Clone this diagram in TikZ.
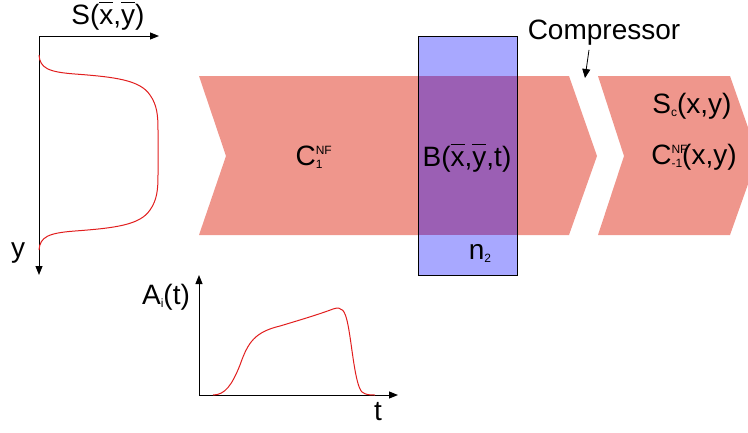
\documentclass[tikz,border=0pt]{standalone}
\usepackage{fontspec}
\setmainfont{Liberation Sans}
\usetikzlibrary{arrows.meta, calc}

\definecolor{pinkfill}{RGB}{239,150,140}
\definecolor{bluefill}{RGB}{168,168,255}
\definecolor{purplefill}{RGB}{155,95,180}
\definecolor{curvered}{RGB}{225,30,30}

\newsavebox{\ovlbox}
\newcommand{\lblsmall}{\fontsize{12}{12}\selectfont}
\newcommand{\ovl}[1]{\sbox{\ovlbox}{#1}\makebox[0pt][l]{\rule[21.5pt]{\wd\ovlbox}{1.6pt}}\usebox{\ovlbox}}
\newcommand{\supsub}[2]{\makebox[0pt][l]{\raisebox{11pt}{\lblsmall #2}}\raisebox{-3pt}{\lblsmall #1}}
\newcommand{\lowidx}[1]{\raisebox{-3pt}{\lblsmall #1}}

\tikzset{%
  lbl/.style={font=\fontsize{28}{30}\selectfont, inner sep=0pt},
  axis/.style={line width=1pt, -{Triangle[length=9pt,width=7pt]}},
  pointer/.style={line width=0.8pt, -{Triangle[length=9pt,width=8pt]}},
  profile/.style={curvered, line width=1pt},
}

\begin{document}
\begin{tikzpicture}[x=1pt, y=-1pt]
\useasboundingbox (0,0) rectangle (748,432);
\clip (0,0) rectangle (748,432);

% chevrons (flow before and after the compressor)
\fill[pinkfill] (199,76) -- (569,76) -- (597,156) -- (569,235) -- (199,235) -- (226,156) -- cycle;
\fill[pinkfill] (598,76) -- (730,76) -- (758,156) -- (730,235) -- (598,235) -- (624,156) -- cycle;

% detector box with overlap region
\fill[bluefill] (418,36) rectangle (517,275);
\fill[purplefill] (418,76) rectangle (517,235);
\draw[line width=0.6pt] (418,36) rectangle (517,275);

% spatial profile axes
\coordinate (S0) at (39,36);
\draw[axis] (S0) -- (159,36);
\draw[axis] (S0) -- (39,275);
\draw[profile] (39,55) .. controls (40,68) and (48,72) .. (75,74)
  .. controls (115,77) and (140,80) .. (150,95)
  .. controls (157,105) and (158,115) .. (158,130) -- (158,175)
  .. controls (158,190) and (157,200) .. (150,210)
  .. controls (140,225) and (115,228) .. (75,231)
  .. controls (48,233) and (40,237) .. (39,250);

% temporal profile axes
\coordinate (A0) at (199,395);
\draw[axis] (A0) -- (199,275);
\draw[axis] (A0) -- (398,395);
\draw[profile] (213,395) .. controls (225,395) and (232,385) .. (240,365)
  .. controls (248,342) and (255,332) .. (280,326)
  .. controls (300,320) and (320,314) .. (333,309)
  .. controls (342,306) and (345,310) .. (348,325)
  .. controls (352,345) and (355,385) .. (362,392)
  .. controls (366,395) and (370,395) .. (375,395);

% labels
\node[lbl] (Sxy) at (108,16) {S(\ovl{x},\ovl{y})};
\node[lbl] (ylab) at (18,253) {y};
\node[lbl] (Ait) at (166,297) {A\lowidx{i}(t)};
\node[lbl] (tlab) at (378,412) {t};
\node[lbl] (C1) at (309,157) {C\supsub{1}{NF}};
\node[lbl] (Bxyt) at (467,158) {B(\ovl{x},\ovl{y},t)};
\node[lbl] (n2) at (480,253) {n\lowidx{2}};
\node[lbl] (Sc) at (692,106) {S\lowidx{c}(x,y)};
\node[lbl] (Cm1) at (694,157) {C\supsub{-1}{NF}(x,y)};
\node[lbl] (comp) at (604,33) {Compressor};

% compressor pointer
\coordinate (compTip) at (585,78);
\draw[pointer] ([xshift=-15pt]comp.south) ++(0,4) -- (compTip);

\end{tikzpicture}
\end{document}
